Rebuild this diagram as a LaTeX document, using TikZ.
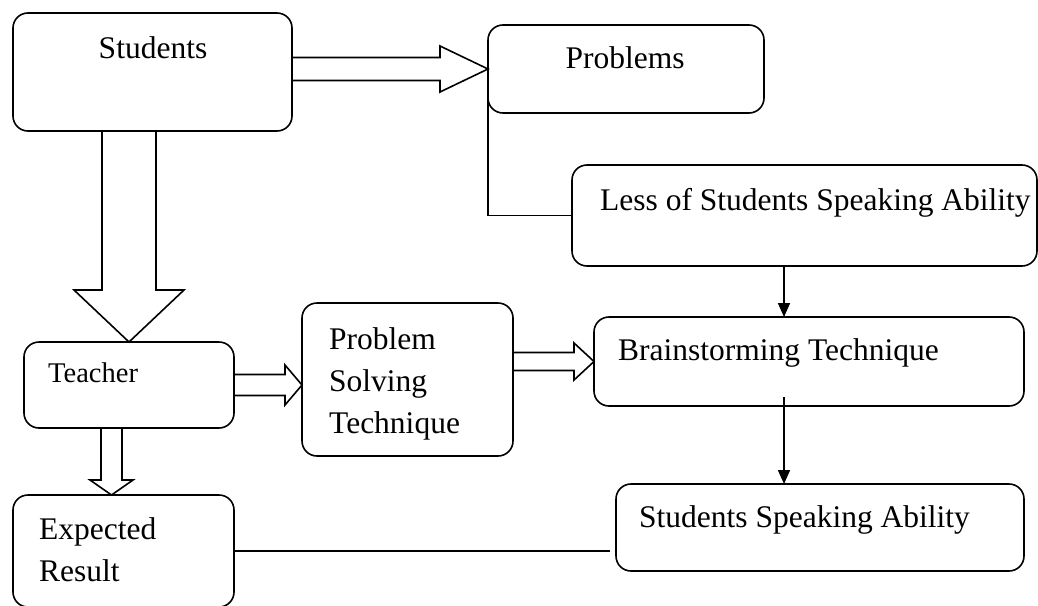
\documentclass[tikz,border=0pt]{standalone}
\usepackage{fontspec}
\setmainfont{Liberation Serif}
\usetikzlibrary{arrows.meta,calc}

% hollow block arrows, #1 start, #2 tip, #3 half shaft, #4 half head, #5 head length
\newcommand{\rightblock}[5]{%
  \draw[fat] ($(#1)+(0,-#3)$) -- ($(#2)+(-#5,-#3)$) -- ($(#2)+(-#5,-#4)$) -- (#2)
    -- ($(#2)+(-#5,#4)$) -- ($(#2)+(-#5,#3)$) -- ($(#1)+(0,#3)$);}
\newcommand{\downblock}[5]{%
  \draw[fat] ($(#1)+(-#3,0)$) -- ($(#2)+(-#3,-#5)$) -- ($(#2)+(-#4,-#5)$) -- (#2)
    -- ($(#2)+(#4,-#5)$) -- ($(#2)+(#3,-#5)$) -- ($(#1)+(#3,0)$);}

\begin{document}
\begin{tikzpicture}[
    x=1pt, y=-1pt,
    box/.style={draw, line width=1.6pt, rounded corners=15pt, inner sep=0pt, outer sep=0pt},
    txt/.style={font=\fontsize{31.5}{42}\selectfont, inner sep=0pt, anchor=base west, align=left},
    fat/.style={draw, line width=1.6pt, line join=miter},
    link/.style={line width=1.6pt},
    arr/.style={link, -{Triangle[length=14pt,width=12pt]}},
]
\useasboundingbox (0,0) rectangle (1038,605);

\node[box, minimum width=279pt, minimum height=118pt] (students) at (152.5,72) {};
\node[box, minimum width=276pt, minimum height=88pt] (problems) at (626,69) {};
\node[box, minimum width=465pt, minimum height=101pt] (less) at (804.5,215.5) {};
\node[box, minimum width=430pt, minimum height=89pt] (brain) at (809,361.5) {};
\node[box, minimum width=408pt, minimum height=87pt] (speak) at (820,527.5) {};
\node[box, minimum width=210pt, minimum height=86pt] (teacher) at (129,385) {};
\node[box, minimum width=211pt, minimum height=153pt] (solving) at (407.5,379.5) {};
\node[box, minimum width=221pt, minimum height=112pt] (expected) at (123.5,551) {};

% labels (base of last line)
\node[txt, anchor=base] (studentslbl) at (153,58) {Students};
\node[txt, anchor=base] (problemslbl) at (625,68) {Problems};
\node[txt] (lesslbl) at (600,210) {Less of Students Speaking Ability};
\node[txt] (brainlbl) at (618,360) {Brainstorming Technique};
\node[txt] (speaklbl) at (639,527) {Students Speaking Ability};
\node[txt, font=\fontsize{28.5}{38}\selectfont] (teacherlbl) at (48,382) {Teacher};
\node[txt] (solvinglbl) at (329,433) {Problem\\Solving\\Technique};
\node[txt] (expectedlbl) at (39,581) {Expected\\Result};

% block arrows
\coordinate (s1) at (students.east |- problems.west);
\rightblock{s1}{problems.west}{11.5}{23}{48}
\coordinate (s2) at (students.south -| teacher.north);
\downblock{s2}{teacher.north}{27}{55}{52}
\coordinate (t1) at (solving.west |- teacher.east);
\rightblock{teacher.east}{t1}{10.5}{20}{17}
\coordinate (p1) at (solving.east |- brain.west);
\rightblock{p1}{brain.west}{9}{18.5}{20}
\coordinate (t2) at ([xshift=-17.5pt]teacher.south);
\coordinate (e1) at (expected.north -| t2);
\downblock{t2}{e1}{10.5}{21.5}{15}

% thin connectors
\draw[link] (problems.west) |- (less.west);
\draw[arr] ([xshift=-20.5pt]less.south) -- ([xshift=-25pt]brain.north);
\draw[arr] ([xshift=-25pt,yshift=9pt]brain.south) -- ([xshift=-36pt]speak.north);
\draw[link, shorten >=6pt] (expected.east) -- (expected.east -| speak.west);

\end{tikzpicture}
\end{document}
